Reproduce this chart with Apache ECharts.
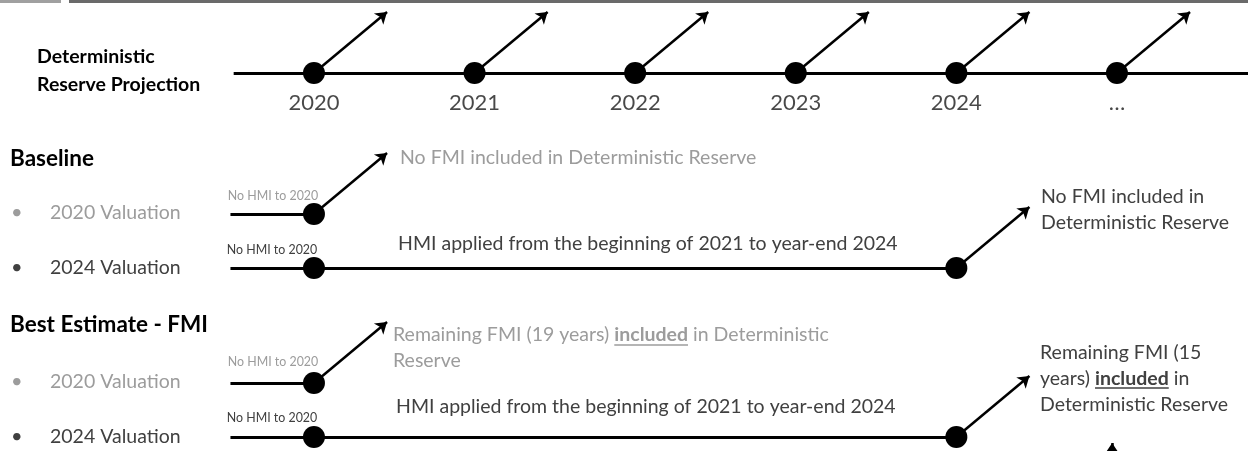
<!DOCTYPE html>
<html>
<head>
<meta charset="utf-8">
<script src="https://cdn.jsdelivr.net/npm/echarts@6/dist/echarts.min.js"></script>
<style>
html,body{margin:0;padding:0;background:#fff}
#timeline{width:1248px;height:451px}
</style>
</head>
<body>
<div id="timeline"></div>
<script>
// projection years ('…' stands for the later years)
var years = [2020, 2021, 2022, 2023, 2024, 2025];
var yearLabels = ['2020', '2021', '2022', '2023', '2024', '…'];

// rows: main projection, baseline 2020/2024, best estimate 2020/2024
var rowNames = ['projection', 'base2020', 'base2024', 'best2020', 'best2024'];
var rowY = [73, 214, 268, 383, 437];
var lineStart = [2019.5, 2019.48, 2019.48, 2019.48, 2019.48];
var lineEnd = [2025.82, 2020, 2024, 2020, 2024];
var rowDots = [years, [2020], [2020, 2024], [2020], [2020, 2024]];
var rowArrows = [years, [2020], [2024], [2020], [2024]];

// arrow going up to the right of each dot
var arrowRun = 0.455;   // in years
var arrowRise = 61;

var gray = '#9c9c9c', dark = '#404040';
var F = 'Lato, "Open Sans", sans-serif';

var chart = echarts.init(document.getElementById('timeline'));

var hLines = rowY.map(function (y, i) {
	return { coords: [[lineStart[i], y], [lineEnd[i], y]] };
});
var arrows = [];
var dots = [];
rowY.forEach(function (y, i) {
	rowArrows[i].forEach(function (yr) {
		arrows.push({ coords: [[yr, y], [yr + arrowRun, y - arrowRise]] });
	});
	rowDots[i].forEach(function (yr) { dots.push([yr, y]); });
});
// arrow coming up from below the picture
arrows.push({ coords: [[2024.97, 480], [2024.97, 443]] });

// text measuring, for the underline below "included"
var ctx = document.createElement('canvas').getContext('2d');
function textW(txt, font) { ctx.font = font; return ctx.measureText(txt).width; }

var body = 19.5, small = 12.4, head = 19.5, head2 = 22.5;
var uBest20x = 393 + textW('Remaining FMI (19 years) ', body + 'px ' + F);
var uInclW = textW('included', 'bold ' + body + 'px ' + F);
var uBest24x = 1040 + textW('years) ', body + 'px ' + F);

function txt(x, y, s, opt) {
	var st = {
		text: s, fill: opt.fill || dark,
		font: (opt.bold ? 'bold ' : '') + (opt.size || body) + 'px ' + F,
		align: opt.align || 'left', verticalAlign: opt.va || 'middle',
		lineHeight: opt.lh
	};
	if (opt.rich) st.rich = opt.rich;
	return { type: 'text', x: x, y: y, style: st, silent: true };
}
function richIncl(fill) {
	return {
		n: { fill: fill, font: body + 'px ' + F, lineHeight: 26 },
		b: { fill: fill, font: 'bold ' + body + 'px ' + F, lineHeight: 26 }
	};
}

chart.setOption({
	animation: false,
	grid: { left: 0, right: 0, top: 0, bottom: 0 },
	xAxis: { type: 'value', min: 2018.045, max: 2025.816, show: false },
	yAxis: { type: 'value', inverse: true, min: 0, max: 451, show: false },
	graphic: [
		{ type: 'rect', shape: { x: 0, y: 0, width: 61, height: 3 }, style: { fill: '#a0a0a0' } },
		{ type: 'rect', shape: { x: 69, y: 0, width: 1179, height: 3 }, style: { fill: '#6a6a6a' } },

		txt(37, 57, 'Deterministic', { bold: true, fill: '#000', size: head }),
		txt(37, 85, 'Reserve Projection', { bold: true, fill: '#000', size: head }),
		txt(10, 159, 'Baseline', { bold: true, fill: '#000', size: head2 }),
		txt(11, 213, '•', { fill: gray, size: 20 }),
		txt(50, 213, '2020 Valuation', { fill: gray }),
		txt(11, 268, '•', { size: 20 }),
		txt(50, 268, '2024 Valuation', {}),
		txt(10, 325, 'Best Estimate - FMI', { bold: true, fill: '#000', size: head2 }),
		txt(11, 382, '•', { fill: gray, size: 20 }),
		txt(50, 382, '2020 Valuation', { fill: gray }),
		txt(11, 437, '•', { size: 20 }),
		txt(50, 437, '2024 Valuation', {}),

		txt(273, 196, 'No HMI to 2020', { size: small, fill: gray, align: 'center' }),
		txt(272, 250, 'No HMI to 2020', { size: small, align: 'center' }),
		txt(273, 362, 'No HMI to 2020', { size: small, fill: gray, align: 'center' }),
		txt(272, 418, 'No HMI to 2020', { size: small, align: 'center' }),

		txt(400, 158, 'No FMI included in Deterministic Reserve', { fill: gray }),
		txt(398, 244, 'HMI applied from the beginning of 2021 to year-end 2024', {}),
		txt(1041, 184, 'No FMI included in\nDeterministic Reserve', { va: 'top', lh: 26 }),

		txt(393, 322, '{n|Remaining FMI (19 years) }{b|included}{n| in Deterministic}\n{n|Reserve}',
			{ va: 'top', rich: richIncl(gray) }),
		txt(396, 407, 'HMI applied from the beginning of 2021 to year-end 2024', {}),
		txt(1040, 340, '{n|Remaining FMI (15}\n{n|years) }{b|included}{n| in}\n{n|Deterministic Reserve}',
			{ va: 'top', rich: richIncl(dark) }),

		{ type: 'line', shape: { x1: uBest20x, y1: 345, x2: uBest20x + uInclW, y2: 345 }, style: { stroke: gray, lineWidth: 1.5 } },
		{ type: 'line', shape: { x1: uBest24x, y1: 388, x2: uBest24x + uInclW, y2: 388 }, style: { stroke: dark, lineWidth: 1.5 } }
	],
	series: [
		{
			type: 'lines', coordinateSystem: 'cartesian2d', data: hLines,
			symbol: 'none', lineStyle: { color: '#000', width: 3, opacity: 1 }, z: 2
		},
		{
			type: 'lines', coordinateSystem: 'cartesian2d', data: arrows,
			symbol: ['none', 'arrow'], symbolSize: 11,
			lineStyle: { color: '#000', width: 2.5, opacity: 1 }, z: 2
		},
		{
			type: 'scatter', data: dots, symbol: 'circle', symbolSize: 22,
			itemStyle: { color: '#000', opacity: 1 }, z: 3, silent: true
		},
		{
			type: 'scatter', data: years.map(function (yr) { return [yr, rowY[0]]; }),
			symbolSize: 0, silent: true, z: 3,
			label: {
				show: true, position: 'inside', offset: [0, 30],
				color: '#1a1a1a', fontFamily: F, fontSize: 22,
				formatter: function (p) { return yearLabels[p.dataIndex]; }
			}
		}
	]
});
</script>
</body>
</html>
